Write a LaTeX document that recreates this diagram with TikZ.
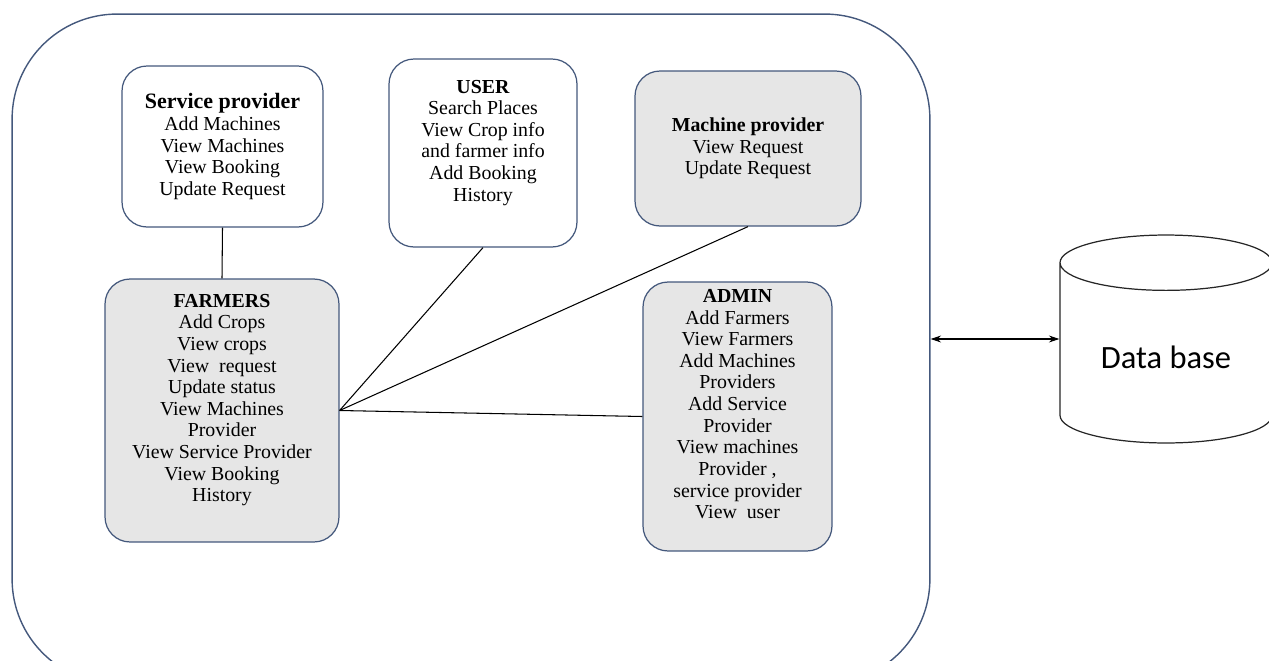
\documentclass[tikz,border=0pt]{standalone}
\usepackage{fontspec}
\setmainfont{Liberation Serif}
\newfontfamily\dbfont{Carlito}
\usepackage{xcolor}
\usepackage{tikz}
\usetikzlibrary{arrows.meta, positioning, shapes.geometric}

\definecolor{boxline}{HTML}{44587C}
\definecolor{boxgray}{HTML}{E6E6E6}

\begin{document}
\begin{tikzpicture}[
  x=0.02cm, y=-0.02cm,
  role/.style={
    rectangle,
    draw=boxline,
    line width=0.7pt,
    fill=#1,
    rounded corners=0.5cm,
    align=center,
    font=\fontsize{11.3}{12.3}\selectfont,
    inner sep=0pt
  },
  link/.style={
    draw=black,
    line width=0.6pt
  }
]
\clip (0,0) rectangle (1269,660);

% Outer system frame
\node[draw=boxline, line width=0.8pt, rounded corners=2.1cm,
      minimum width=18.36cm, minimum height=13.4cm] (sys) at (471,349) {};

% Role boxes
\node[role=white, minimum width=4.02cm, minimum height=3.22cm] (sp) at (222.5,146.5)
  {{\fontsize{12.5}{12.3}\selectfont\textbf{Service provider}}\\Add Machines\\View Machines\\View Booking\\Update Request};
\node[role=white, minimum width=3.76cm, minimum height=3.76cm, text depth=0.5cm] (user) at (483,153)
  {\textbf{USER}\\Search Places\\View Crop info\\and farmer info\\Add Booking\\History};
\node[role=boxgray, minimum width=4.52cm, minimum height=3.1cm] (mp) at (748,148.5)
  {\textbf{Machine provider}\\View Request\\Update Request};
\node[role=boxgray, minimum width=4.68cm, minimum height=5.26cm, text depth=0.5cm] (farm) at (222,410.5)
  {\textbf{FARMERS}\\Add Crops\\View crops\\View~ request\\Update status\\View Machines\\Provider\\View Service Provider\\View Booking\\History};
\node[role=boxgray, minimum width=3.78cm, minimum height=5.38cm, text depth=0.5cm] (admin) at (737.5,416.5)
  {\textbf{ADMIN}\\Add Farmers\\View Farmers\\Add Machines\\Providers\\Add Service\\Provider\\View machines\\Provider ,\\service provider\\View~ user};

% Data store
\node[cylinder, shape border rotate=90, draw=black!85, line width=0.7pt, aspect=0.39,
      minimum width=4.24cm, minimum height=4.16cm, anchor=shape center,
      font=\dbfont\fontsize{18.5}{20}\selectfont] (db) at (1166,339) {Data base};

% Connections
\draw[link] (sp.south) -- (farm.north);
\draw[link] (farm.east) -- (user.south);
\draw[link] (farm.east) -- (mp.south);
\draw[link] (farm.east) -- (admin.west);
\draw[link, {Stealth[length=6pt,width=4pt]}-{Stealth[length=6pt,width=4pt]}]
  (db.shape center -| sys.east) -- (db.shape center -| db.west);
\end{tikzpicture}
\end{document}
